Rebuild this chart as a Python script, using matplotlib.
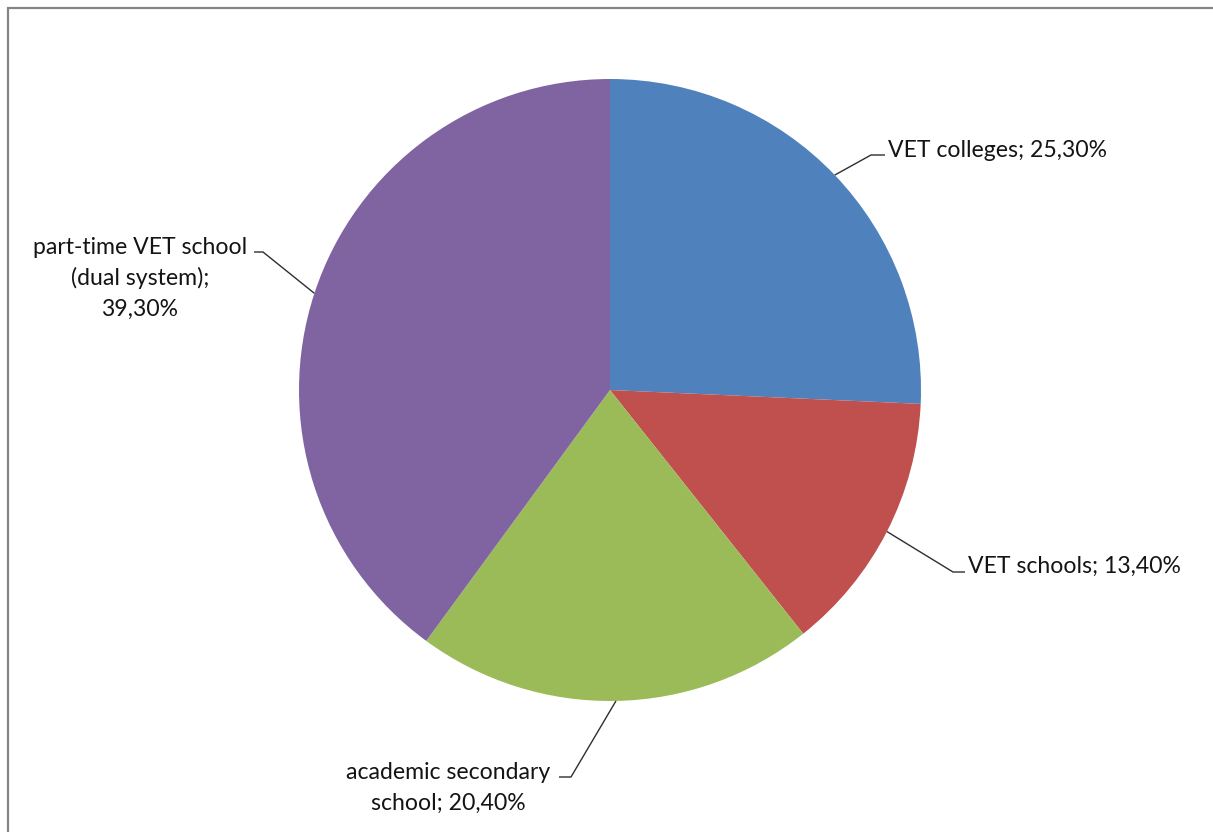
import numpy as np
import matplotlib
matplotlib.use("Agg")
import matplotlib.pyplot as plt
from matplotlib.patches import Rectangle

categories = ["VET colleges", "VET schools", "academic secondary school",
              "part-time VET school (dual system)"]
values = [25.30, 13.40, 20.40, 39.30]
value_labels = ["25,30%", "13,40%", "20,40%", "39,30%"]
colors = ["#4F81BD", "#C0504D", "#9BBB59", "#8064A2"]

# label text lines (as displayed)
label_lines = [
    ["VET colleges; 25,30%"],
    ["VET schools; 13,40%"],
    ["academic secondary", "school; 20,40%"],
    ["part-time VET school", "(dual system);", "39,30%"],
]

W, H = 1213, 832
CX, CY, R = 610, 390, 311

fig = plt.figure(figsize=(W / 100, H / 100), dpi=100)
fig.patch.set_facecolor("white")
ax = fig.add_axes([(CX - R) / W, (H - CY - R) / H, 2 * R / W, 2 * R / H])
ax.set_xlim(-1, 1)
ax.set_ylim(-1, 1)
ax.set_aspect("equal")
ax.axis("off")

wedges, _ = ax.pie(values, colors=colors, startangle=90, counterclock=False,
                   radius=1.0, center=(0, 0),
                   wedgeprops=dict(linewidth=0, edgecolor="none"))
ax.set_xlim(-1, 1)
ax.set_ylim(-1, 1)

def p2d(px, py):
    return ((px - CX) / R, (CY - py) / R)

# layout: (elbow px, end px, text anchor px, ha)
layout = [
    dict(elbow=(871, 155), end=(885, 155), text=(888, 157), ha="left"),
    dict(elbow=(953, 572), end=(965, 572), text=(968, 573), ha="left"),
    dict(elbow=(571, 777), end=(559, 777), text=(448, 779), ha="center"),
    dict(elbow=(263, 252), end=(254, 252), text=(140, 254), ha="center"),
]
pitch = 31

font = dict(family=["Lato", "DejaVu Sans"], size=16.6, color="#141414")

for w, lines, lay in zip(wedges, label_lines, layout):
    mid = np.deg2rad((w.theta1 + w.theta2) / 2)
    sx, sy = np.cos(mid), np.sin(mid)
    ex, ey = p2d(*lay["elbow"])
    nx, ny = p2d(*lay["end"])
    ax.plot([sx, ex, nx], [sy, ey, ny], color="#2E2E2E", lw=1.0,
            clip_on=False, zorder=5, solid_capstyle="butt")
    tx, ty = lay["text"]
    for i, ln in enumerate(lines):
        x, y = p2d(tx, ty + i * pitch)
        ax.text(x, y, ln, ha=lay["ha"], va="baseline", clip_on=False, **font)

# outer chart-area border
bx0 = 7.5 / W
by1 = 1 - 7.5 / H
fig.patches.append(Rectangle((bx0, -0.05), 1.2, by1 + 0.05,
                             transform=fig.transFigure, fill=False,
                             edgecolor="#858585", linewidth=1.6))

fig.savefig("out.png", dpi=100, facecolor="white")
